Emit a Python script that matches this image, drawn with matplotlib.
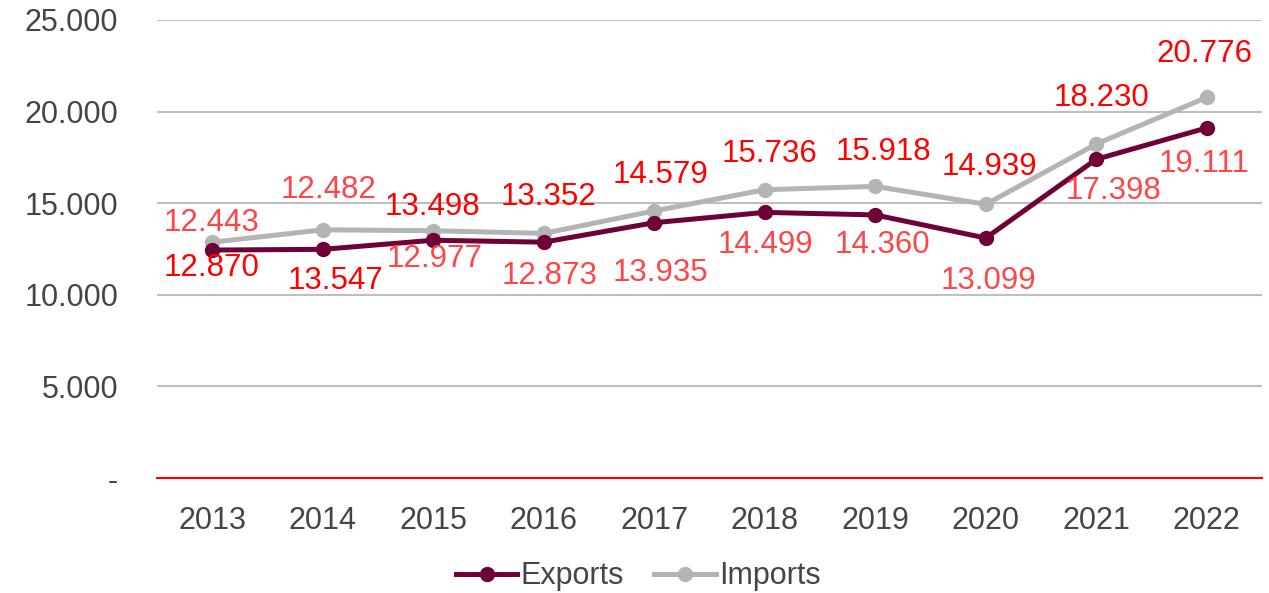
import matplotlib
matplotlib.use("Agg")
import matplotlib.pyplot as plt
from matplotlib.ticker import FuncFormatter

plt.rcParams['font.family'] = ['Liberation Sans', 'DejaVu Sans']

years = ["2013", "2014", "2015", "2016", "2017", "2018", "2019", "2020", "2021", "2022"]
exports = [12443, 12482, 12977, 12873, 13935, 14499, 14360, 13099, 17398, 19111]
imports = [12870, 13547, 13498, 13352, 14579, 15736, 15918, 14939, 18230, 20776]

# label offsets in pixels (dx, dy) relative to each point
exp_off = [(-1, 27), (6, 59), (1, -19), (6, -34), (6, -50), (1, -33), (7, -30), (3, -43), (17, -32), (-3, -36)]
imp_off = [(-1, -26), (13, -51), (-1, 24), (5, 36), (6, 36), (5, 36), (8, 34), (4, 37), (5, 46), (-2, 43)]

c_exp = "#700038"
c_imp = "#B4B4B4"
lbl_exp = "#FF4545"
lbl_imp = "#FF0000"
tick_col = "#454545"


def fmt(v):
    return f"{int(round(v)):,}".replace(",", ".")


fig = plt.figure(figsize=(12.69, 5.93), dpi=100)
ax = fig.add_axes([0.1237, 0.1939, 0.8708, 0.7724])

x = list(range(len(years)))
ax.plot(x, exports, color=c_exp, lw=3.6, marker='o', ms=10, label="Exports", zorder=3)
ax.plot(x, imports, color=c_imp, lw=3.6, marker='o', ms=10, label="Imports", zorder=2)

for i in x:
    ax.annotate(fmt(exports[i]), (i, exports[i]), xytext=exp_off[i], textcoords='offset pixels',
                ha='center', va='center', fontsize=22.5, color=lbl_exp)
    ax.annotate(fmt(imports[i]), (i, imports[i]), xytext=imp_off[i], textcoords='offset pixels',
                ha='center', va='center', fontsize=22.5, color=lbl_imp)

ax.set_xlim(-0.5, 9.5)
ax.set_ylim(0, 25000)
ax.set_yticks([0, 5000, 10000, 15000, 20000, 25000])
ax.yaxis.set_major_formatter(FuncFormatter(lambda v, _: "-" if v == 0 else fmt(v)))
ax.set_xticks(x)
ax.set_xticklabels(years)

ax.grid(axis='y', color='#BFBFBF', lw=1.5)
ax.set_axisbelow(True)
for s in ['top', 'right', 'left']:
    ax.spines[s].set_visible(False)
ax.spines['bottom'].set_color('#FF0000')
ax.spines['bottom'].set_linewidth(1.5)
ax.tick_params(axis='both', length=0, labelsize=22, labelcolor=tick_col)
ax.tick_params(axis='x', pad=20)
ax.tick_params(axis='y', pad=28)

fig.legend(loc='center', bbox_to_anchor=(0.503, 0.028), ncol=2, frameon=False, fontsize=22,
           labelcolor=tick_col, handlelength=2.0, handletextpad=0.1, columnspacing=1.0,
           borderaxespad=0)

fig.savefig("out.png", dpi=100)
